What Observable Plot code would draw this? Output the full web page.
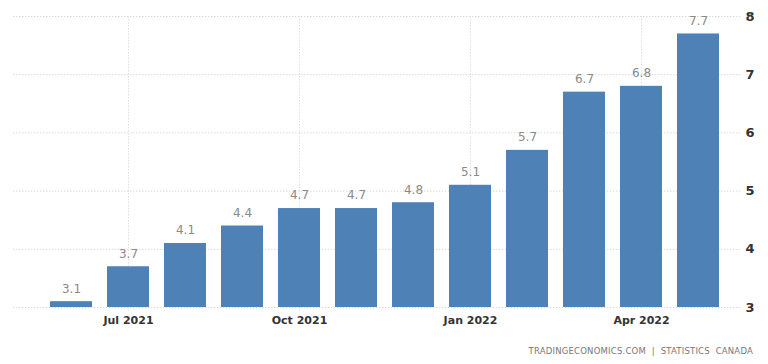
<!DOCTYPE html>
<html>
<head>
<meta charset="utf-8">
<script src="https://cdn.jsdelivr.net/npm/d3@7"></script>
<script src="https://cdn.jsdelivr.net/npm/@observablehq/plot@0.6"></script>
<style>
  html, body { margin: 0; padding: 0; background: #fff; }
  #chart { position: relative; width: 768px; height: 364px; }
  #caption { position: absolute; right: 15px; top: 346px; font: 8.5px "DejaVu Sans", sans-serif; color: #777; letter-spacing: 0.2px; white-space: pre; }
</style>
</head>
<body>
<div id="chart"></div>
<script>
const months = ["Jun 2021","Jul 2021","Aug 2021","Sep 2021","Oct 2021","Nov 2021","Dec 2021","Jan 2022","Feb 2022","Mar 2022","Apr 2022","May 2022"];
const values = [3.1, 3.7, 4.1, 4.4, 4.7, 4.7, 4.8, 5.1, 5.7, 6.7, 6.8, 7.7];
const xTickLabels = ["Jul 2021","Oct 2021","Jan 2022","Apr 2022"];
const yTicks = [3, 4, 5, 6, 7, 8];
const captionText = "TRADINGECONOMICS.COM  |  STATISTICS  CANADA";

const data = months.map((m, i) => ({month: m, value: values[i]}));

const plot = Plot.plot({
  width: 768,
  height: 340,
  marginLeft: 13,
  marginRight: 28,
  marginTop: 16,
  marginBottom: 33,
  style: {fontFamily: "DejaVu Sans, sans-serif", fontSize: "11px", color: "#333", background: "#fff"},
  x: {domain: months, paddingInner: 0.27, paddingOuter: 0.505, align: 0.64, label: null},
  y: {domain: [3, 8], label: null},
  marks: [
    Plot.ruleY(yTicks, {stroke: "#dadada", strokeDasharray: "1.5,1.5"}),
    Plot.ruleX(xTickLabels, {x: d => d, stroke: "#e0e0e0", strokeDasharray: "1.5,1.5", insetBottom: -4}),
    Plot.barY(data, {x: "month", y1: 3, y2: "value", fill: "#4e81b6"}),
    Plot.text(data, {x: "month", y: "value", text: d => d.value.toFixed(1), dy: -13, fill: "#8a8a8a", fontSize: 12}),
    Plot.axisX({ticks: xTickLabels, tickSize: 0, tickPadding: 9, fontWeight: "bold", fill: "#333", fontSize: 11}),
    Plot.axisY({anchor: "right", ticks: yTicks, tickFormat: d3.format("d"), tickSize: 0, tickPadding: 5, fontWeight: "bold", fill: "#333", fontSize: 13})
  ]
});
document.getElementById("chart").appendChild(plot);
const cap = document.createElement("div");
cap.id = "caption";
cap.textContent = captionText;
document.getElementById("chart").appendChild(cap);
</script>
</body>
</html>
